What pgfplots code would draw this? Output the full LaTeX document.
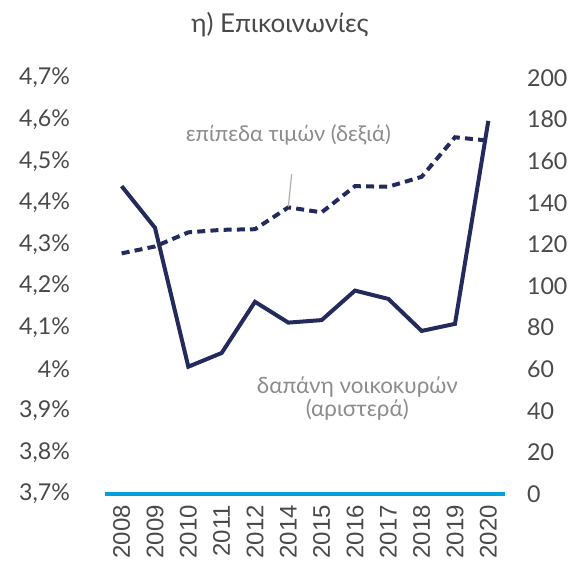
\documentclass[border=0pt]{standalone}
\usepackage{pgfplots}
\pgfplotsset{compat=1.18}
\usepackage{pgfplotstable}
\usepackage{fontspec}
\setmainfont{Lato}
\newfontfamily\arialf{Liberation Sans}
\definecolor{navy}{HTML}{232A5C}
\definecolor{lineblue}{HTML}{00A0DC}
\definecolor{ticktext}{HTML}{4A4A4A}
\definecolor{notegray}{HTML}{8C8C8C}

% idx: 0 = 2008 ... (no 2013) ... 11 = 2020
\pgfplotstableread{
idx spend price
0  4.440 115.7
1  4.340 119.0
2  4.006 125.8
3  4.039 127.0
4  4.162 127.3
5  4.112 137.8
6  4.118 135.4
7  4.189 148.0
8  4.169 147.7
9  4.092 152.5
10 4.109 171.5
11 4.597 169.9
}\datatable

\begin{document}
\begin{tikzpicture}
\pgfplotsset{
  base/.style={
    at={(0,0)}, anchor=south west,
    scale only axis, width=200pt, height=208pt,
    xmin=-0.5, xmax=11.5,
    axis line style={draw=none},
    major tick length=0pt,
    tick style={draw=none},
    clip=false,
    yticklabel style={font=\fontsize{11.6}{13}\selectfont, text=ticktext},
  }
}
\begin{axis}[
  base,
  ymin=3.7, ymax=4.7,
  xtick={0,...,11},
  xticklabels={2008,2009,2010,2011,2012,2014,2015,2016,2017,2018,2019,2020},
  xticklabel style={rotate=90, anchor=east, font=\arialf\fontsize{12}{13}\selectfont, text=ticktext},
  xticklabel shift=2pt,
  ytick={3.7,3.8,3.9,4,4.1,4.2,4.3,4.4,4.5,4.6,4.7},
  yticklabels={{3,7\%},{3,8\%},{3,9\%},{4\%},{4,1\%},{4,2\%},{4,3\%},{4,4\%},{4,5\%},{4,6\%},{4,7\%}},
  yticklabel shift=14pt,
]
\draw[lineblue, line width=2pt] (axis cs:-0.5,3.7) -- (axis cs:11.5,3.7);
\addplot[navy, line width=2pt, mark=none] table[x=idx, y=spend] {\datatable};
\end{axis}
\begin{axis}[
  base,
  axis y line*=right,
  axis x line=none,
  ymin=0, ymax=200,
  ytick={0,20,...,200},
  yticklabels={0,20,40,60,80,100,120,140,160,180,200},
  yticklabel style={anchor=west},
  yticklabel shift=7.5pt,
]
\addplot[navy, line width=2pt, mark=none, dash pattern=on 4pt off 2.6pt] table[x=idx, y=price] {\datatable};
\draw[notegray!70, line width=0.6pt] (axis cs:5.1,153.8) -- (axis cs:5.0,138.1);
\node[font=\fontsize{10.9}{13}\selectfont, text=notegray] at (axis cs:5,172.6) {επίπεδα τιμών (δεξιά)};
\node[font=\fontsize{11.2}{11.5}\selectfont, text=notegray, align=center] at (axis cs:7.07,45.9) {δαπάνη νοικοκυρών\\(αριστερά)};
\end{axis}
\node[font=\fontsize{13}{15}\selectfont, text=ticktext] at (87.5pt,234.5pt) {η) Επικοινωνίες};
\pgfresetboundingbox
\path (-52.5pt,-37pt) rectangle (237.5pt,247pt);
\end{tikzpicture}
\end{document}
